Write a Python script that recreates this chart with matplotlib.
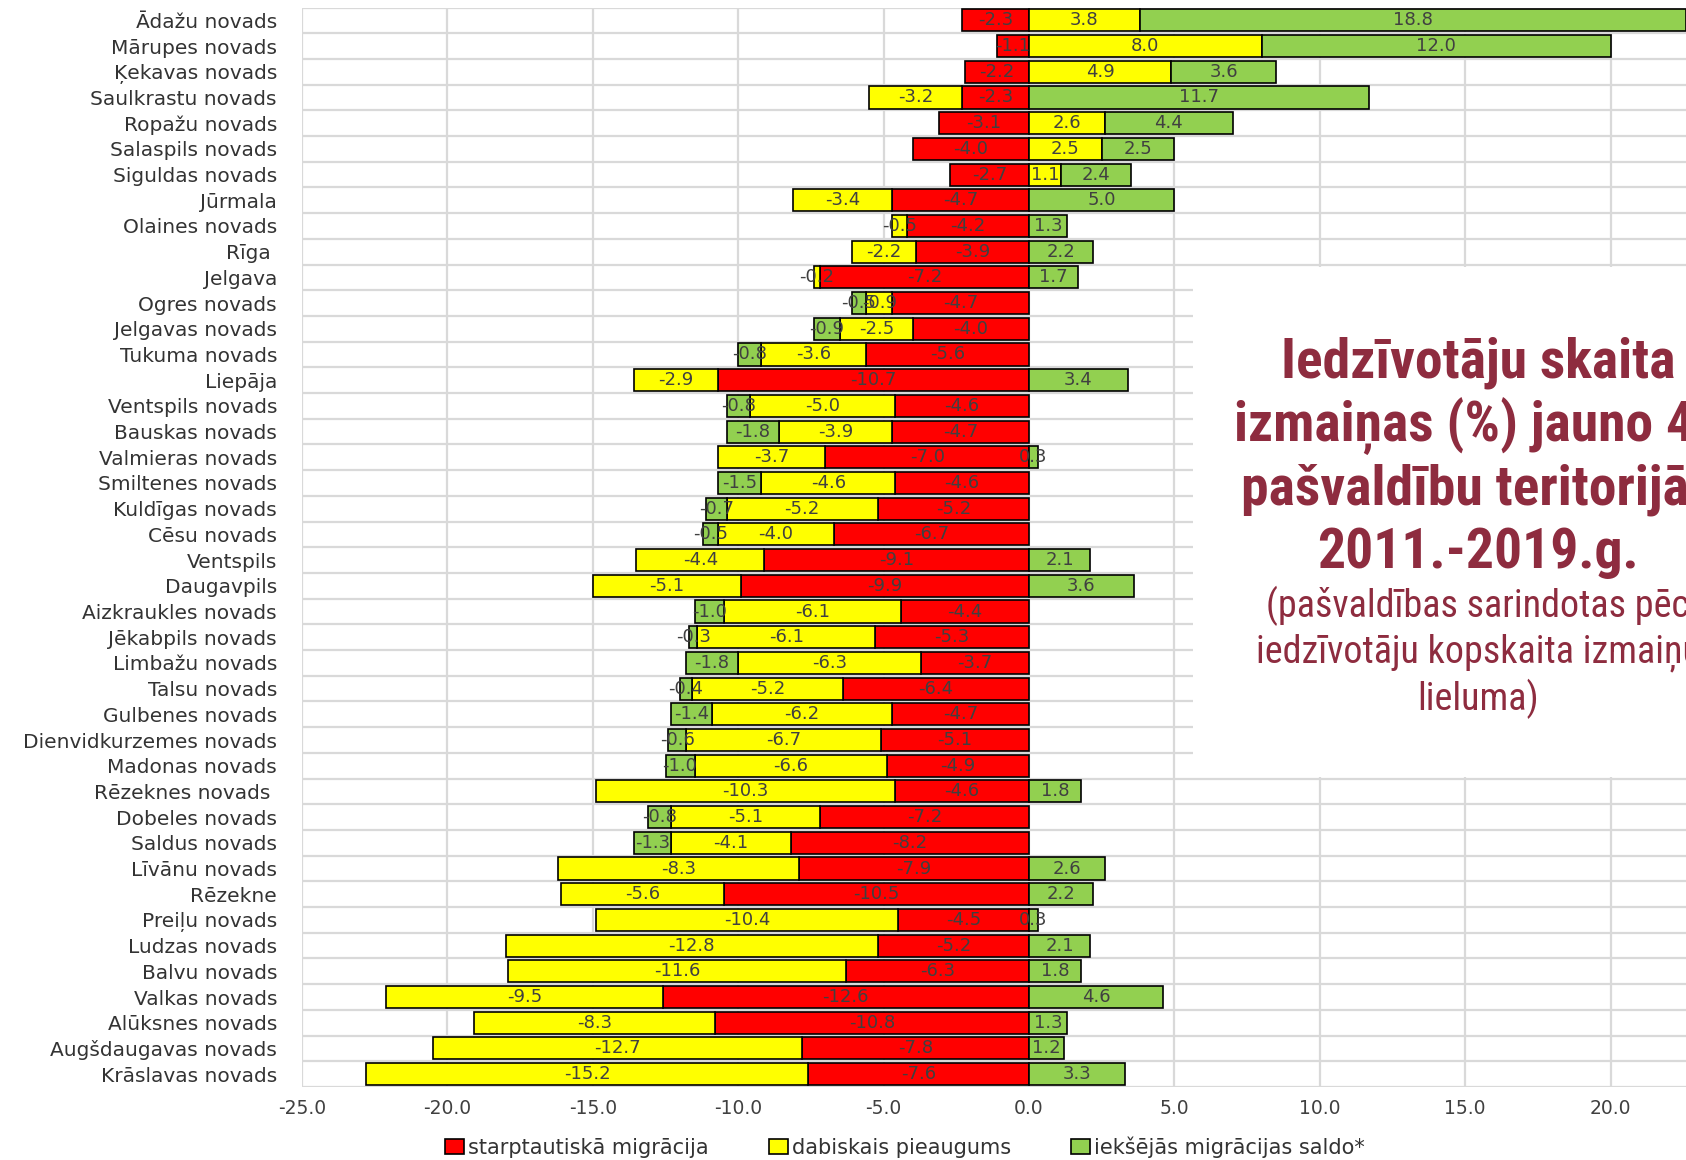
import matplotlib.pyplot as plt
import numpy as np
from matplotlib import font_manager as fm
from matplotlib.patches import Rectangle

plt.rcParams['axes.unicode_minus'] = False
plt.rcParams['font.family'] = ['DejaVu Sans']

# pašvaldības (sarindotas pēc kopskaita izmaiņām)
names = ['Ādažu novads', 'Mārupes novads', 'Ķekavas novads', 'Saulkrastu novads',
         'Ropažu novads', 'Salaspils novads', 'Siguldas novads', 'Jūrmala',
         'Olaines novads', 'Rīga ', 'Jelgava', 'Ogres novads', 'Jelgavas novads',
         'Tukuma novads', 'Liepāja', 'Ventspils novads', 'Bauskas novads',
         'Valmieras novads', 'Smiltenes novads', 'Kuldīgas novads', 'Cēsu novads',
         'Ventspils', 'Daugavpils', 'Aizkraukles novads', 'Jēkabpils novads',
         'Limbažu novads', 'Talsu novads', 'Gulbenes novads', 'Dienvidkurzemes novads',
         'Madonas novads', 'Rēzeknes novads ', 'Dobeles novads', 'Saldus novads',
         'Līvānu novads', 'Rēzekne', 'Preiļu novads', 'Ludzas novads', 'Balvu novads',
         'Valkas novads', 'Alūksnes novads', 'Augšdaugavas novads', 'Krāslavas novads']

# starptautiskā migrācija
intl = [-2.3, -1.1, -2.2, -2.3, -3.1, -4.0, -2.7, -4.7, -4.2, -3.9, -7.2, -4.7, -4.0,
        -5.6, -10.7, -4.6, -4.7, -7.0, -4.6, -5.2, -6.7, -9.1, -9.9, -4.4, -5.3, -3.7,
        -6.4, -4.7, -5.1, -4.9, -4.6, -7.2, -8.2, -7.9, -10.5, -4.5, -5.2, -6.3, -12.6,
        -10.8, -7.8, -7.6]
# dabiskais pieaugums
natural = [3.8, 8.0, 4.9, -3.2, 2.6, 2.5, 1.1, -3.4, -0.5, -2.2, -0.2, -0.9, -2.5,
           -3.6, -2.9, -5.0, -3.9, -3.7, -4.6, -5.2, -4.0, -4.4, -5.1, -6.1, -6.1, -6.3,
           -5.2, -6.2, -6.7, -6.6, -10.3, -5.1, -4.1, -8.3, -5.6, -10.4, -12.8, -11.6,
           -9.5, -8.3, -12.7, -15.2]
# iekšējās migrācijas saldo
internal = [18.8, 12.0, 3.6, 11.7, 4.4, 2.5, 2.4, 5.0, 1.3, 2.2, 1.7, -0.5, -0.9,
            -0.8, 3.4, -0.8, -1.8, 0.3, -1.5, -0.7, -0.5, 2.1, 3.6, -1.0, -0.3, -1.8,
            -0.4, -1.4, -0.6, -1.0, 1.8, -0.8, -1.3, 2.6, 2.2, 0.3, 2.1, 1.8, 4.6, 1.3,
            1.2, 3.3]

series = [
    (intl, '#FF0000', 'starptautiskā migrācija'),
    (natural, '#FFFF00', 'dabiskais pieaugums'),
    (internal, '#92D050', 'iekšējās migrācijas saldo*'),
]

# šaurs fonts virsrakstam (ja tāds ir)
available = {f.name for f in fm.fontManager.ttflist}
narrowFont = 'Liberation Sans'
for cand in ['Liberation Sans Narrow', 'Arial Narrow', 'Roboto Condensed', 'Archivo Narrow',
             'PT Sans Narrow', 'Open Sans Condensed', 'DejaVu Sans Condensed']:
    if cand in available:
        narrowFont = cand
        break

W, H = 1686, 1160
fig = plt.figure(figsize=(W / 100, H / 100), dpi=100)
ax = fig.add_axes([302 / W, 1 - 1087 / H, 1 - 302 / W, (1087 - 7.5) / H])

n = len(names)
y = np.arange(n)
posBase = np.zeros(n)
negBase = np.zeros(n)
for vals, col, lab in series:
    v = np.array(vals)
    left = np.where(v >= 0, posBase, negBase)
    bars = ax.barh(y, v, left=left, height=0.86, color=col, edgecolor='black',
                   linewidth=1.2, label=lab, zorder=2)
    ax.bar_label(bars, labels=[f'{x:.1f}' for x in v], label_type='center',
                 fontsize=13, color='#404040')
    posBase += np.where(v >= 0, v, 0)
    negBase += np.where(v < 0, v, 0)

ax.set_xlim(-25, (W - 1029) / 29.08)
ax.set_ylim(n - 0.5, -0.5)
xt = np.arange(-25, 21, 5)
ax.set_xticks(xt, labels=[f'{t:.1f}' for t in xt], fontsize=13.5, color='#404040')
ax.set_yticks(y, labels=names, fontsize=14.5, color='#333333')
ax.set_yticks(np.arange(-0.5, n, 1), minor=True)
ax.tick_params(which='both', length=0)
ax.tick_params(axis='y', pad=18)
ax.tick_params(axis='x', pad=9)
ax.set_axisbelow(True)
ax.grid(axis='x', which='major', color='#D9D9D9', linewidth=1.6)
ax.grid(axis='y', which='minor', color='#D9D9D9', linewidth=1.6)
for s in ax.spines.values():
    s.set_visible(False)

# balts teksta lauks virs režģa
ax.add_patch(Rectangle(((1193 - 1029) / 29.08, 9.6), 30, 19.85,
                       facecolor='white', edgecolor='none', zorder=1))

titleColor = '#8E2C3F'
cx = 1478 / W
renderer = fig.canvas.get_renderer()

# izmēru pielāgo pēc rindas platuma references attēlā
probe = fig.text(0, 0, 'Iedzīvotāju skaita', fontsize=40, fontweight='bold', family=narrowFont)
titleSize = 40 * 394 / probe.get_window_extent(renderer).width
probe.remove()
probe = fig.text(0, 0, 'lieluma)', fontsize=30, family=narrowFont)
subSize = 30 * 122 / probe.get_window_extent(renderer).width
probe.remove()

for txt, base in [('Iedzīvotāju skaita', 378), ('izmaiņas (%) jauno 43', 442),
                  ('pašvaldību teritorijās', 505), ('2011.-2019.g.', 568)]:
    fig.text(cx, 1 - base / H, txt, ha='center', va='baseline', fontsize=titleSize,
             fontweight='bold', family=narrowFont, color=titleColor)
for txt, base in [('(pašvaldības sarindotas pēc', 617),
                  ('iedzīvotāju kopskaita izmaiņu', 662), ('lieluma)', 710)]:
    fig.text(cx, 1 - base / H, txt, ha='center', va='baseline', fontsize=subSize,
             family=narrowFont, color=titleColor)

fig.legend(loc='center', bbox_to_anchor=(905 / W, 1 - 1147 / H), ncol=3,
           frameon=False, fontsize=15, handlelength=0.9, handleheight=0.7,
           handletextpad=0.2, columnspacing=2.9, labelcolor='#333333')

fig.savefig('out.png', dpi=100)
